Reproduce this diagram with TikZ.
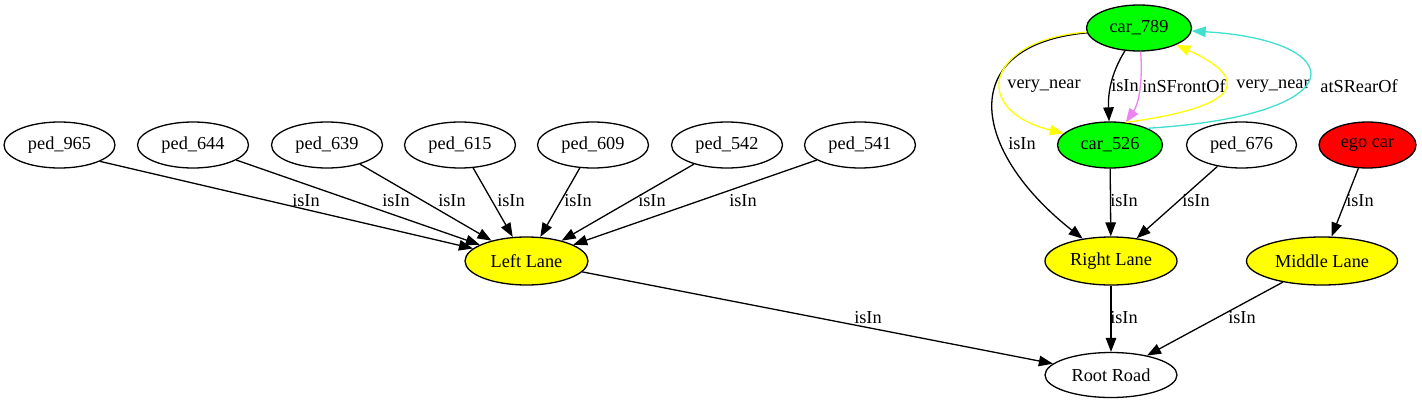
\documentclass[tikz,border=0pt]{standalone}
\usepackage{fontspec}
\setmainfont{Liberation Serif}
\usetikzlibrary{shapes.geometric,arrows.meta}
\definecolor{gvviolet}{RGB}{238,130,238}
\definecolor{gvturq}{RGB}{64,224,208}
\definecolor{gvgreen}{RGB}{0,255,0}
\definecolor{gvyellow}{RGB}{255,255,0}
\definecolor{gvred}{RGB}{255,0,0}
\begin{document}
\begin{tikzpicture}[x=1pt,y=-1pt,
  font=\fontsize{18.3}{20}\selectfont,
  ent/.style={ellipse, draw=black, line width=1.3pt, minimum height=46pt, inner sep=0pt},
  ped/.style={ent, minimum width=111pt},
  car/.style={ent, fill=gvgreen, minimum width=105pt},
  lane/.style={ent, fill=gvyellow},
  lnk/.style={draw=black, line width=1.3pt, -{Triangle[length=14pt,width=10.5pt]}},
  lbl/.style={inner sep=0pt, anchor=center}]
\useasboundingbox[fill=white] (0,0) rectangle (1422,407);

% nodes
\node[ped] (p965) at (59.5,145) {ped\_965};
\node[ped] (p644) at (193,145) {ped\_644};
\node[ped] (p639) at (327,145) {ped\_639};
\node[ped] (p615) at (460,145) {ped\_615};
\node[ped] (p609) at (593,145) {ped\_609};
\node[ped] (p542) at (727,145) {ped\_542};
\node[ped] (p541) at (860,145) {ped\_541};
\node[ped, minimum width=110pt] (p676) at (1241.5,145) {ped\_676};
\node[ent, fill=gvred, minimum width=97pt] (ego) at (1367.5,145) {ego car};
\node[car] (c789) at (1139,28) {car\_789};
\node[car] (c526) at (1110,145) {car\_526};
\node[lane, minimum width=123pt, minimum height=48pt] (ll) at (526.5,261) {Left Lane};
\node[lane, minimum width=132pt, minimum height=48pt] (rl) at (1111,261) {Right Lane};
\node[lane, minimum width=151pt, minimum height=48pt] (ml) at (1322,261) {Middle Lane};
\node[ent, minimum width=132pt, minimum height=45pt] (rr) at (1111,375) {Root Road};

% pedestrians to left lane
\draw[lnk] (p965.-22) -- (ll);
\draw[lnk] (p644) -- (ll);
\draw[lnk] (p639) -- (ll);
\draw[lnk] (p615) -- (ll);
\draw[lnk] (p609) -- (ll);
\draw[lnk] (p542) -- (ll);
\draw[lnk] (p541) -- (ll);
\node[lbl] (t965) at (306,201) {isIn};
\node[lbl] (t644) at (396,201) {isIn};
\node[lbl] (t639) at (452,201) {isIn};
\node[lbl] (t615) at (511,201) {isIn};
\node[lbl] (t609) at (578,201) {isIn};
\node[lbl] (t542) at (652,201) {isIn};
\node[lbl] (t541) at (743,201) {isIn};

% lanes to root road
\draw[lnk] (ll) -- (rr);
\draw[lnk] (rl) -- (rr);
\draw[lnk] (ml) -- (rr);
\node[lbl] (tll) at (868,318) {isIn};
\node[lbl] (trl) at (1124,318) {isIn};
\node[lbl] (tml) at (1242,318) {isIn};

% right side
\draw[lnk] (c526) -- (rl);
\draw[lnk] (p676) -- (rl);
\draw[lnk] (ego) -- (ml);
\node[lbl] (t526) at (1124,201) {isIn};
\node[lbl] (t676) at (1196,201) {isIn};
\node[lbl] (tego) at (1360,201) {isIn};

\draw[lnk] (c789) .. controls (955,45) and (970,150) .. (rl);
\node[lbl] (t789r) at (1022,144) {isIn};

\draw[lnk] (c789) .. controls (1110,75) and (1108,95) .. (c526);
\node[lbl] (t789c) at (1125,86) {isIn};

\draw[lnk, draw=gvviolet] (c789) .. controls (1143,85) and (1138,105) .. (c526);
\node[lbl] (tfront) at (1184,86) {inSFrontOf};

\draw[lnk, draw=gvyellow] (c789) .. controls (985,40) and (970,110) .. (c526);
\node[lbl] (tnear1) at (1044,86) {very\_near};

\draw[lnk, draw=gvyellow] (c526.55) .. controls (1255,105) and (1243,75) .. (c789);
\node[lbl] (tnear2) at (1273,86) {very\_near};

\draw[lnk, draw=gvturq] (c526.24) .. controls (1360,115) and (1350,40) .. (c789);
\node[lbl] (trear) at (1359,86) {atSRearOf};
\end{tikzpicture}
\end{document}
